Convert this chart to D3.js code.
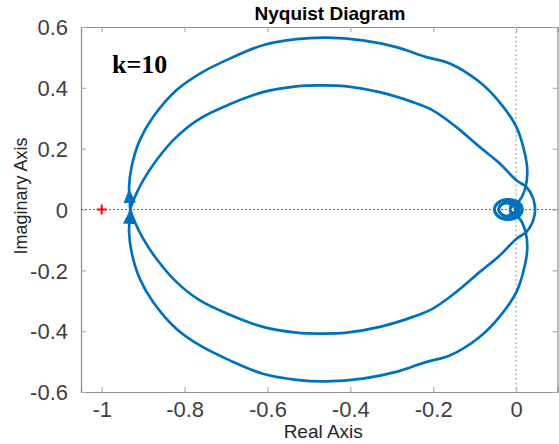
<!DOCTYPE html>
<html>
<head>
<meta charset="utf-8">
<script src="https://cdn.jsdelivr.net/npm/d3@7"></script>
<style>
  body { margin: 0; background: #fff; }
  text { font-family: Arial, "Liberation Sans", Helvetica, sans-serif; }
</style>
</head>
<body>
<svg id="chart" width="559" height="444"></svg>
<script>
// positive-frequency branch:
// starts at w=0 on the right, lower inner arc -> left crossing -> upper outer arc -> spiral into the origin
const branchRe = [0.046, 0.045, 0.040, 0.025, 0.001, -0.040, -0.088, -0.144, -0.201, -0.249, -0.329, -0.409,
  -0.474, -0.530, -0.611, -0.691, -0.763, -0.820, -0.868, -0.900, -0.920, -0.931,
  -0.932, -0.934, -0.928, -0.908, -0.876, -0.820, -0.763, -0.691, -0.611, -0.530, -0.458,
  -0.370, -0.289, -0.216, -0.160, -0.088, -0.040, 0.001, 0.021, 0.027, 0.023, 0.009, -0.008,
  -0.028, -0.044, -0.052, -0.044, -0.023, 0.001, 0.014, 0.011, -0.006, -0.028, -0.040, -0.040, -0.028,
  -0.006, 0.006, 0.006, -0.003, -0.013, -0.013, -0.003, 0.004, 0.003, -0.002, 0];
const branchIm = [0, -0.014, -0.041, -0.074, -0.096, -0.152, -0.206, -0.271, -0.326, -0.353, -0.386, -0.405,
  -0.408, -0.405, -0.386, -0.346, -0.299, -0.238, -0.162, -0.096, -0.041, 0,
  0.021, 0.074, 0.140, 0.228, 0.304, 0.392, 0.447, 0.496, 0.540, 0.560, 0.565,
  0.556, 0.534, 0.501, 0.480, 0.419, 0.353, 0.271, 0.185, 0.129, 0.074, 0.031, 0.012,
  0.029, 0.021, 0.001, -0.022, -0.033, -0.027, -0.009, 0.014, 0.026, 0.022, 0.009, -0.009, -0.020,
  -0.019, -0.007, 0.009, 0.016, 0.009, -0.006, -0.011, -0.004, 0.006, 0.004, 0];

// direction arrows near the left crossing, both on the outer arc (upper: w>0, lower: w<0)
const arrowRe = [-0.933, -0.933];
const arrowIm = [0.040, -0.029];
const arrowBranch = ["pos", "neg"];

// critical point -1+0j
const critRe = -1, critIm = 0;

const xTicks = [-1, -0.8, -0.6, -0.4, -0.2, 0];
const yTicks = [-0.6, -0.4, -0.2, 0, 0.2, 0.4, 0.6];

const W = 559, H = 444;
const mLeft = 81, mRight = 557.5, mTop = 27, mBottom = 392;
const blue = "#0072BD";

const x = d3.scaleLinear().domain([-1.05, 0.1]).range([mLeft, mRight]);
const y = d3.scaleLinear().domain([-0.6, 0.6]).range([mBottom, mTop]);

const svg = d3.select("#chart");

svg.append("defs").append("clipPath").attr("id", "plotclip")
  .append("rect").attr("x", mLeft).attr("y", mTop).attr("width", mRight - mLeft).attr("height", mBottom - mTop);

// axes with inward ticks, box on all sides
const fmt = d => d === 0 ? "0" : String(+d.toFixed(1));
const xAxis = svg.append("g").attr("transform", `translate(0,${mBottom})`)
  .call(d3.axisBottom(x).tickValues(xTicks).tickSize(-5).tickPadding(9).tickFormat(fmt));
const xTop = svg.append("g").attr("transform", `translate(0,${mTop})`)
  .call(d3.axisTop(x).tickValues(xTicks).tickSize(-5).tickFormat(""));
const yAxis = svg.append("g").attr("transform", `translate(${mLeft},0)`)
  .call(d3.axisLeft(y).tickValues(yTicks).tickSize(-5).tickPadding(13).tickFormat(fmt));
const yRight = svg.append("g").attr("transform", `translate(${mRight},0)`)
  .call(d3.axisRight(y).tickValues(yTicks).tickSize(-5).tickFormat(""));

[xAxis, xTop, yAxis, yRight].forEach(g => {
  g.select(".domain").attr("stroke", "#8c8c8c").attr("stroke-width", 1.2);
  g.selectAll(".tick line").attr("stroke", "#b0b0b0").attr("stroke-width", 1.2);
  g.selectAll(".tick text").attr("fill", "#404040").style("font-size", "22px");
});
xAxis.selectAll(".tick text").attr("dy", "0.71em");
yAxis.selectAll(".tick text").attr("dy", "0.35em");

// zero lines
svg.append("line").attr("x1", mLeft).attr("x2", mRight).attr("y1", y(0)).attr("y2", y(0))
  .attr("stroke", "#6e6e6e").attr("stroke-width", 1).attr("stroke-dasharray", "2,2");
svg.append("line").attr("x1", x(0)).attr("x2", x(0)).attr("y1", mTop).attr("y2", mBottom)
  .attr("stroke", "#bdbdbd").attr("stroke-width", 1.6).attr("stroke-dasharray", "2,2.5");

// nyquist curve: positive branch and its conjugate
const pos = branchRe.map((r, i) => [r, branchIm[i]]);
const neg = pos.map(p => [p[0], -p[1]]);
const branches = { pos, neg };
const line = d3.line().x(d => x(d[0])).y(d => y(d[1])).curve(d3.curveCatmullRom.alpha(0.5));

const plot = svg.append("g").attr("clip-path", "url(#plotclip)");
[pos, neg].forEach(b => {
  plot.append("path").attr("d", line(b)).attr("fill", "none")
    .attr("stroke", blue).attr("stroke-width", 2.7).attr("stroke-linejoin", "round");
});

// arrows, oriented along the nearest piece of their branch, pointing up
arrowRe.forEach((r, i) => {
  const px = x(r), py = y(arrowIm[i]);
  const b = branches[arrowBranch[i]];
  let j = 1, bd = Infinity;
  b.forEach((p, k) => {
    if (k === 0 || k === b.length - 1) return;
    const dd = (x(p[0]) - px) ** 2 + (y(p[1]) - py) ** 2;
    if (dd < bd) { bd = dd; j = k; }
  });
  let dx = x(b[j + 1][0]) - x(b[j - 1][0]);
  let dy = y(b[j + 1][1]) - y(b[j - 1][1]);
  if (dy > 0) { dx = -dx; dy = -dy; }
  const ang = Math.atan2(dy, dx) * 180 / Math.PI + 90;
  svg.append("path").attr("d", "M0,-7 L5.5,5 L-5.5,5 Z")
    .attr("transform", `translate(${px},${py}) rotate(${ang})`)
    .attr("fill", blue).attr("stroke", blue).attr("stroke-width", 1);
});

// critical point
svg.append("path").attr("d", "M-5,0H5M0,-5V5")
  .attr("transform", `translate(${x(critRe)},${y(critIm)})`)
  .attr("stroke", "#ff0000").attr("stroke-width", 2);

// labels
svg.append("text").attr("x", 330).attr("y", 20).attr("text-anchor", "middle")
  .style("font-size", "19px").style("font-weight", "bold").attr("fill", "#000").text("Nyquist Diagram");
svg.append("text").attr("x", (mLeft + mRight) / 2 + 4).attr("y", 438).attr("text-anchor", "middle")
  .style("font-size", "19px").attr("fill", "#262626").text("Real Axis");
svg.append("text").attr("transform", `translate(27,196) rotate(-90)`).attr("text-anchor", "middle")
  .style("font-size", "18px").attr("fill", "#262626").text("Imaginary Axis");
svg.append("text").attr("x", 112).attr("y", 73)
  .style("font-family", "'Liberation Serif','Times New Roman',serif")
  .style("font-size", "26px").style("font-weight", "bold").attr("fill", "#000").text("k=10");
</script>
</body>
</html>
